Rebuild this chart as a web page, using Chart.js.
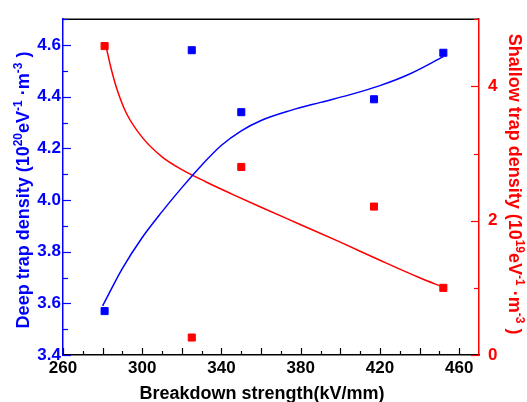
<!DOCTYPE html>
<html>
<head>
<meta charset="utf-8">
<script src="https://cdn.jsdelivr.net/npm/chart.js@4/dist/chart.umd.min.js"></script>
<style>
  html, body { margin: 0; padding: 0; background: #fff; }
  #wrap { width: 527px; height: 402px; }
</style>
</head>
<body>
<div id="wrap"><canvas id="trapChart" width="527" height="402"></canvas></div>
<script>
// measured points
const breakdown = [281, 325, 350, 417, 452];
const deepTrap = [3.57, 4.58, 4.34, 4.39, 4.57];
const shallowTrap = [4.60, 0.26, 2.80, 2.21, 1.00];

// fitted curves
const deepFitX = [280, 290, 300, 310, 320, 330, 340, 350, 360, 375, 390, 405, 420, 435, 452];
const deepFitY = [3.59, 3.735, 3.855, 3.955, 4.048, 4.135, 4.212, 4.268, 4.308, 4.347, 4.378, 4.408, 4.443, 4.488, 4.555];
const shallowFitX = [282, 284, 287, 292, 300, 310, 320, 332, 345, 360, 380, 400, 420, 440, 452];
const shallowFitY = [4.56, 4.30, 3.98, 3.60, 3.24, 2.95, 2.76, 2.58, 2.40, 2.20, 1.94, 1.68, 1.41, 1.15, 1.01];

// tick labels
const xTicks = [260, 300, 340, 380, 420, 460];
const deepTicks = [3.4, 3.6, 3.8, 4.0, 4.2, 4.4, 4.6];
const shallowTicks = [0, 2, 4];

// tick marks (drawn inward)
const xMajor = [260, 280, 300, 320, 340, 360, 380, 400, 420, 440, 460];
const xMinor = [270, 290, 310, 330, 350, 370, 390, 410, 430, 450];
const deepMajor = [3.4, 3.6, 3.8, 4.0, 4.2, 4.4, 4.6];
const deepMinor = [3.5, 3.7, 3.9, 4.1, 4.3, 4.5, 4.7];
const shallowMajor = [0, 2, 4];
const shallowMinor = [1, 3, 5];

const xTitle = [{ t: "Breakdown strength(kV/mm)" }];
const deepTitle = [
  { t: "Deep trap density (10" }, { t: "20", sup: true }, { t: "eV" }, { t: "-1", sup: true },
  { t: " \u00b7m" }, { t: "-3", sup: true }, { t: " )" }
];
const shallowTitle = [
  { t: "Shallow trap density (10" }, { t: "19", sup: true }, { t: "eV" }, { t: "-1", sup: true },
  { t: " \u00b7m" }, { t: "-3", sup: true }, { t: " )" }
];

const BLUE = "#0000ff";
const RED = "#ff0000";
const FONT = "'Liberation Sans', Arial, sans-serif";

function pts(xs, ys) {
  return xs.map((x, i) => ({ x: x, y: ys[i] }));
}

function drawRich(ctx, parts, x, y, angle, color, size) {
  const supSize = Math.round(size * 0.65);
  ctx.save();
  ctx.translate(x, y);
  ctx.rotate(angle);
  ctx.fillStyle = color;
  ctx.textBaseline = "alphabetic";
  ctx.textAlign = "left";
  let total = 0;
  parts.forEach(p => {
    ctx.font = "bold " + (p.sup ? supSize : size) + "px " + FONT;
    p.w = ctx.measureText(p.t).width;
    total += p.w;
  });
  let cx = -total / 2;
  const base = size * 0.36;
  parts.forEach(p => {
    ctx.font = "bold " + (p.sup ? supSize : size) + "px " + FONT;
    ctx.fillText(p.t, cx, p.sup ? base - size * 0.42 : base);
    cx += p.w;
  });
  ctx.restore();
}

const decorPlugin = {
  id: "decor",
  afterDraw(chart) {
    const ctx = chart.ctx;
    const area = chart.chartArea;
    const xs = chart.scales.x;
    const yl = chart.scales.yDeep;
    const yr = chart.scales.yShallow;

    ctx.save();
    ctx.lineWidth = 1.5;
    // top frame line
    ctx.strokeStyle = "#000";
    ctx.beginPath();
    ctx.moveTo(area.left, area.top);
    ctx.lineTo(area.right, area.top);
    ctx.stroke();

    ctx.lineWidth = 1.2;
    function tickX(vals, len) {
      vals.forEach(v => {
        const px = Math.round(xs.getPixelForValue(v)) + 0.5;
        ctx.beginPath();
        ctx.moveTo(px, area.bottom);
        ctx.lineTo(px, area.bottom - len);
        ctx.stroke();
      });
    }
    ctx.strokeStyle = "#000";
    tickX(xMajor, 7);
    tickX(xMinor, 4);

    function tickY(scale, vals, len, fromLeft) {
      vals.forEach(v => {
        const py = Math.round(scale.getPixelForValue(v)) + 0.5;
        const x0 = fromLeft ? area.left : area.right;
        ctx.beginPath();
        ctx.moveTo(x0, py);
        ctx.lineTo(fromLeft ? x0 + len : x0 - len, py);
        ctx.stroke();
      });
    }
    ctx.strokeStyle = BLUE;
    tickY(yl, deepMajor, 8, true);
    tickY(yl, deepMinor, 5, true);
    ctx.strokeStyle = RED;
    tickY(yr, shallowMajor, 8, false);
    tickY(yr, shallowMinor, 5, false);
    ctx.restore();

    drawRich(ctx, xTitle, 262, 393, 0, "#000", 18);
    drawRich(ctx, deepTitle, 23, 190, -Math.PI / 2, BLUE, 18);
    drawRich(ctx, shallowTitle, 515, 184, Math.PI / 2, RED, 18);
  }
};

const ctx = document.getElementById("trapChart").getContext("2d");
new Chart(ctx, {
  type: "scatter",
  data: {
    datasets: [
      {
        data: pts(deepFitX, deepFitY),
        yAxisID: "yDeep",
        showLine: true,
        borderColor: BLUE,
        borderWidth: 1.5,
        pointRadius: 0,
        cubicInterpolationMode: "monotone"
      },
      {
        data: pts(shallowFitX, shallowFitY),
        yAxisID: "yShallow",
        showLine: true,
        borderColor: RED,
        borderWidth: 1.5,
        pointRadius: 0,
        cubicInterpolationMode: "monotone"
      },
      {
        data: pts(breakdown, deepTrap),
        yAxisID: "yDeep",
        pointStyle: "rect",
        pointRadius: 5,
        borderWidth: 1,
        backgroundColor: BLUE,
        borderColor: BLUE
      },
      {
        data: pts(breakdown, shallowTrap),
        yAxisID: "yShallow",
        pointStyle: "rect",
        pointRadius: 5,
        borderWidth: 1,
        backgroundColor: RED,
        borderColor: RED
      }
    ]
  },
  options: {
    responsive: false,
    animation: false,
    layout: { padding: { top: 12, left: 0, right: 0, bottom: 0 } },
    plugins: {
      legend: { display: false },
      tooltip: { enabled: false }
    },
    scales: {
      x: {
        type: "linear",
        position: "bottom",
        min: 260,
        max: 470,
        grid: { display: false, drawTicks: false },
        border: { display: true, color: "#000", width: 1.5 },
        afterBuildTicks: scale => { scale.ticks = xTicks.map(v => ({ value: v })); },
        afterFit: scale => { scale.height = 47; },
        ticks: {
          color: "#000",
          padding: 3,
          maxRotation: 0,
          autoSkip: false,
          font: { family: FONT, size: 17, weight: "bold" }
        }
      },
      yDeep: {
        type: "linear",
        position: "left",
        min: 3.4,
        max: 4.7,
        grid: { display: false, drawTicks: false },
        border: { display: true, color: BLUE, width: 1.5 },
        afterBuildTicks: scale => { scale.ticks = deepTicks.map(v => ({ value: v })); },
        afterFit: scale => { scale.width = 63; },
        ticks: {
          color: BLUE,
          padding: 2,
          autoSkip: false,
          callback: v => Number(v).toFixed(1),
          font: { family: FONT, size: 17, weight: "bold" }
        }
      },
      yShallow: {
        type: "linear",
        position: "right",
        min: 0,
        max: 5,
        grid: { display: false, drawTicks: false },
        border: { display: true, color: RED, width: 1.5 },
        afterBuildTicks: scale => { scale.ticks = shallowTicks.map(v => ({ value: v })); },
        afterFit: scale => { scale.width = 48; },
        ticks: {
          color: RED,
          padding: 9,
          autoSkip: false,
          font: { family: FONT, size: 17, weight: "bold" }
        }
      }
    }
  },
  plugins: [decorPlugin]
});
</script>
</body>
</html>
